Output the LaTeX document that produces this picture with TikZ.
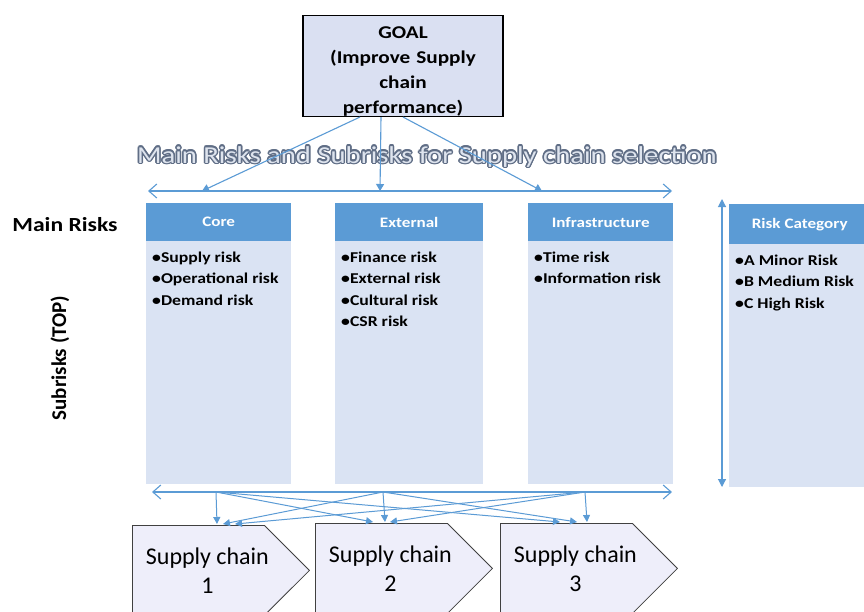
\documentclass[tikz,border=0pt]{standalone}
\usepackage{fontspec}
\setmainfont{Carlito}
\newfontfamily\wideCarlito{Carlito}[FakeStretch=1.18]
\usepackage{tikz}
\usetikzlibrary{shapes.symbols, arrows.meta, positioning, calc}
\definecolor{riskblue}{RGB}{91, 155, 213}
\definecolor{riskpale}{RGB}{218, 227, 243}
\definecolor{goalfill}{RGB}{218, 224, 242}
\definecolor{chainfill}{RGB}{238, 238, 250}
\definecolor{chainedge}{RGB}{64, 64, 64}
\definecolor{titleline}{RGB}{96, 110, 134}
\definecolor{titlefill}{RGB}{222, 228, 238}

\tikzset{
  headbox/.style={fill=riskblue, text=white, minimum height=38pt, inner sep=0pt, anchor=north west,
    font=\wideCarlito\bfseries\fontsize{14.5}{17}\selectfont},
  bodybox/.style={fill=riskpale, inner sep=0pt, anchor=north west},
  itemlist/.style={anchor=north west, inner sep=0pt, align=left,
    font=\wideCarlito\bfseries\fontsize{15}{21.5}\selectfont},
  goalbox/.style={draw=black, line width=1.2pt, fill=goalfill, text width=200pt, inner sep=0pt, align=center,
    font=\wideCarlito\bfseries\fontsize{18}{25}\selectfont},
  titletext/.style={anchor=base, inner sep=0pt, font=\wideCarlito\fontsize{24.3}{28}\selectfont},
  chainbox/.style={signal, signal to=east, signal pointer angle=90, draw=chainedge, line width=0.8pt,
    fill=chainfill, minimum width=177pt, minimum height=90pt, inner sep=0pt, anchor=north west,
    align=center, font=\fontsize{24}{29}\selectfont},
  wideline/.style={draw=riskblue, line width=1.1pt, {Straight Barb[length=8pt, width=14pt]}-{Straight Barb[length=8pt, width=14pt]}},
  goalarrow/.style={draw=riskblue, line width=1.1pt, -{Triangle[length=7pt, width=8pt]}},
  crossarrow/.style={draw=riskblue, line width=1pt, -{Triangle[length=7pt, width=7pt]}}
}

\begin{document}
\begin{tikzpicture}[x=1pt, y=-1pt]
  \useasboundingbox[fill=white] (0,0) rectangle (864,611);

  % title with outline
  \foreach \ang in {0,30,...,330}
    \node[titletext, text=titleline] at ($(427,163)+(\ang:1.5pt)$) {Main Risks and Subrisks for Supply chain selection};
  \node[titletext, text=titlefill] (title) at (427,163) {Main Risks and Subrisks for Supply chain selection};

  % goal
  \node[goalbox] (goal) at (403,66) {\rule{0pt}{23pt}GOAL\\(Improve Supply\\chain\\performance)};

  \coordinate (topL) at (148,191);
  \coordinate (topR) at (672,191);
  \coordinate (toCore) at (202,191);
  \coordinate (toExternal) at (380,191);
  \coordinate (toInfra) at (542,191);
  \draw[wideline] (topL) -- (topR);
  \draw[goalarrow] ($(goal.south)+(-43,0)$) -- (toCore);
  \draw[goalarrow] ($(goal.south)+(-22,0)$) -- (toExternal);
  \draw[goalarrow] (goal.south) -- (toInfra);

  % main risk columns
  \node[headbox, minimum width=145pt] (coreHead) at (146,203) {Core};
  \node[bodybox, minimum width=145pt, minimum height=243pt] (coreBody) at (146,241) {};
  \node[itemlist] (coreItems) at ($(coreBody.north west)+(6,6)$) {\strut •Supply risk\\•Operational risk\\•Demand risk};

  \node[headbox, minimum width=148pt] (extHead) at (335,203) {External};
  \node[bodybox, minimum width=148pt, minimum height=243pt] (extBody) at (335,241) {};
  \node[itemlist] (extItems) at ($(extBody.north west)+(6,6)$) {\strut •Finance risk\\•External risk\\•Cultural risk\\•CSR risk};

  \node[headbox, minimum width=145pt] (infraHead) at (528,203) {Infrastructure};
  \node[bodybox, minimum width=145pt, minimum height=243pt] (infraBody) at (528,241) {};
  \node[itemlist] (infraItems) at ($(infraBody.north west)+(6,6)$) {\strut •Time risk\\•Information risk};

  % risk category
  \node[headbox, minimum width=141pt, minimum height=40pt] (catHead) at (729,204) {Risk Category};
  \node[bodybox, minimum width=141pt, minimum height=243pt] (catBody) at (729,244) {};
  \node[itemlist] (catItems) at ($(catBody.north west)+(6,6)$) {\strut •A Minor Risk\\•B Medium Risk\\•C High Risk};
  \coordinate (catTop) at (722,199);
  \coordinate (catBot) at (722,487);
  \draw[draw=riskblue, line width=1.1pt, {Triangle[length=8pt, width=8pt]}-{Triangle[length=8pt, width=8pt]}] (catTop) -- (catBot);

  % side labels
  \node[inner sep=0pt, font=\wideCarlito\bfseries\fontsize{20}{24}\selectfont] (mainLabel) at (65,225) {Main Risks};
  \node[inner sep=0pt, rotate=90, font=\bfseries\fontsize{21}{25}\selectfont] (subLabel) at (60,358) {Subrisks (TOP)};

  % supply chains
  \coordinate (botL) at (152,492);
  \coordinate (botR) at (672,492);
  \coordinate (srcA) at (216,492);
  \coordinate (srcB) at (383,492);
  \coordinate (srcC) at (585,492);
  \draw[wideline] (botL) -- (botR);

  \node[chainbox] (chainA) at (132,525) {\mbox{Supply chain\kern-18pt}\\\mbox{1\kern-18pt}};
  \node[chainbox] (chainB) at (315,523) {\mbox{Supply chain\kern-18pt}\\\mbox{2\kern-18pt}};
  \node[chainbox] (chainC) at (500,523) {\mbox{Supply chain\kern-18pt}\\\mbox{3\kern-18pt}};

  \draw[crossarrow] (srcA) -- ($(chainA.north west)+(85,-1)$);
  \draw[crossarrow] (srcA) -- ($(chainB.north west)+(58,-1)$);
  \draw[crossarrow] (srcA) -- ($(chainC.north west)+(60,-1)$);
  \draw[crossarrow] (srcB) -- ($(chainA.north west)+(91,-1)$);
  \draw[crossarrow] (srcB) -- ($(chainB.north west)+(70,-1)$);
  \draw[crossarrow] (srcB) -- ($(chainC.north west)+(77,-1)$);
  \draw[crossarrow] (srcC) -- ($(chainA.north west)+(103,-1)$);
  \draw[crossarrow] (srcC) -- ($(chainB.north west)+(75,-1)$);
  \draw[crossarrow] (srcC) -- ($(chainC.north west)+(87,-1)$);
\end{tikzpicture}
\end{document}
